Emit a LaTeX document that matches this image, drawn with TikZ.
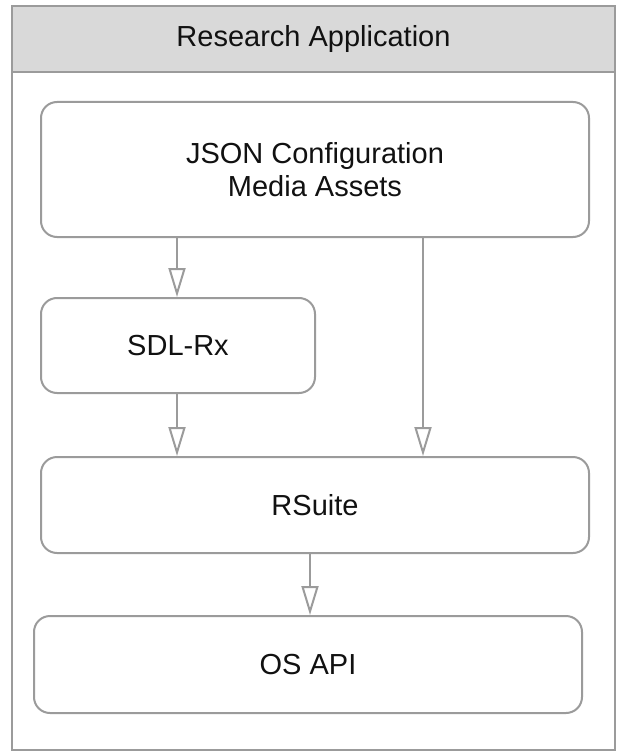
\documentclass[tikz,border=0pt]{standalone}
\usepackage{fontspec}
\setmainfont{Liberation Sans}
\usetikzlibrary{arrows.meta}
\definecolor{edgegray}{HTML}{9B9B9B}
\definecolor{headgray}{HTML}{D9D9D9}
\definecolor{txt}{HTML}{111111}
\begin{document}
\begin{tikzpicture}[x=1pt,y=-1pt,
  box/.style={draw=edgegray, line width=2pt, rounded corners=16pt, fill=white,
    text=txt, align=center, inner sep=0pt, font=\fontsize{29}{33}\selectfont},
  arr/.style={draw=edgegray, line width=2pt,
    -{Triangle[open, length=29pt, width=17pt, line width=2pt, fill=white]}},
]
\useasboundingbox (0,0) rectangle (616,751);
\draw[edgegray, line width=2pt] (12,6) rectangle (615,750);
\draw[edgegray, line width=2pt, fill=headgray] (12,6) rectangle (615,72);
\node[text=txt, font=\fontsize{29}{33}\selectfont] (title) at (313.5,39) {Research Application};

\node[box, minimum width=548pt, minimum height=135pt] (json) at (315,169.5) {JSON Configuration\\Media Assets};
\node[box, minimum width=274pt, minimum height=95pt] (sdl) at (178,345.5) {SDL-Rx};
\node[box, minimum width=548pt, minimum height=96pt] (rsuite) at (315,505) {RSuite};
\node[box, minimum width=548pt, minimum height=97pt] (os) at (308,664.5) {OS API};

\coordinate (cl) at (177,0);
\coordinate (cr) at (423,0);
\coordinate (cm) at (310,0);

\draw[arr] (json.south -| cl) -- (sdl.north -| cl);
\draw[arr] (sdl.south -| cl) -- (rsuite.north -| cl);
\draw[arr] (json.south -| cr) -- (rsuite.north -| cr);
\draw[arr] (rsuite.south -| cm) -- (os.north -| cm);
\end{tikzpicture}
\end{document}
